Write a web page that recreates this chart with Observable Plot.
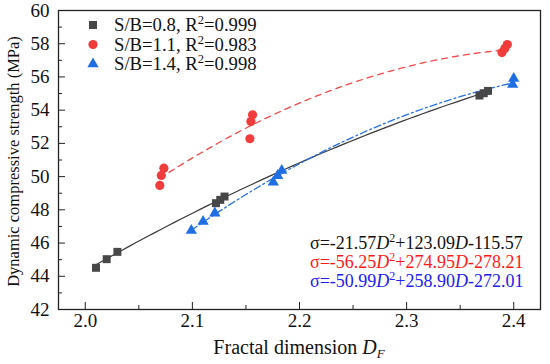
<!DOCTYPE html>
<html><head><meta charset="utf-8">
<script src="https://cdn.jsdelivr.net/npm/d3@7"></script>
<script src="https://cdn.jsdelivr.net/npm/@observablehq/plot@0.6"></script>
<style>body{margin:0;background:#fff} svg{display:block}</style>
</head><body><div id="chart"></div>
<script>
// ---- data ----
const xTicks = [2.0, 2.1, 2.2, 2.3, 2.4];
const xMinor = [2.05, 2.15, 2.25, 2.35];
const yTicks = [42, 44, 46, 48, 50, 52, 54, 56, 58, 60];
const yMinor = [43, 45, 47, 49, 51, 53, 55, 57, 59];
const seriesNames = ["S/B=0.8", "S/B=1.1", "S/B=1.4"];
const r2Values = ["0.999", "0.983", "0.998"];
const dA = [2.010, 2.020, 2.030, 2.122, 2.126, 2.130, 2.368, 2.372, 2.376];
const sA = [44.51, 45.03, 45.47, 48.40, 48.60, 48.80, 54.88, 55.02, 55.16];
const dB = [2.0696, 2.0710, 2.0734, 2.1537, 2.1546, 2.1562, 2.389, 2.3917, 2.394];
const sB = [49.47, 50.07, 50.51, 52.28, 53.32, 53.72, 57.47, 57.71, 57.95];
const dC = [2.099, 2.110, 2.121, 2.1755, 2.1796, 2.1834, 2.399, 2.400];
const sC = [46.76, 47.30, 47.80, 49.66, 50.06, 50.37, 55.55, 55.90];
// fitted quadratic coefficients shown on the chart: a*D^2 + b*D + c
const coefA = [-21.57, 123.09, -115.57];
const coefB = [-56.25, 274.95, -278.21];
const coefC = [-50.99, 258.90, -272.01];

const colors = ["#474747", "#f03c3c", "#1f6fe3"];
const lineColors = ["#3a3a3a", "#f24a4a", "#2a72e0"];
const symbols = ["square", "circle", "triangle"];
const font = "'Liberation Serif', 'Times New Roman', serif";

const W = 550, H = 364, mL = 58, mR = 10, mT = 10, mB = 55;
const innerW = W - mL - mR, innerH = H - mT - mB;

const pts = (ds, ss) => ds.map((d, i) => ({d, s: ss[i]}));
const fit = (coef, ds) => {
  const lo = d3.min(ds), hi = d3.max(ds);
  const n = 60;
  return d3.range(n + 1).map(i => {
    const d = lo + (hi - lo) * i / n;
    return {d, s: coef[0] * d * d + coef[1] * d + coef[2]};
  });
};
const P = [pts(dA, sA), pts(dB, sB), pts(dC, sC)];
const F = [fit(coefA, dA), fit(coefB, dB), fit(coefC, dC)];

const plot = Plot.plot({
  width: W, height: H,
  marginLeft: mL, marginRight: mR, marginTop: mT, marginBottom: mB,
  style: {fontFamily: font, fontSize: "18px", color: "#111", background: "#fff"},
  x: {domain: [1.975, 2.425]},
  y: {domain: [42, 60]},
  marks: [
    Plot.line(F[0], {x: "d", y: "s", stroke: lineColors[0], strokeWidth: 1.2}),
    Plot.line(F[1], {x: "d", y: "s", stroke: lineColors[1], strokeWidth: 1.3, strokeDasharray: "6,5"}),
    Plot.line(F[2], {x: "d", y: "s", stroke: lineColors[2], strokeWidth: 1.3, strokeDasharray: "7,3,2,3"}),
    Plot.dot(P[0], {x: "d", y: "s", symbol: symbols[0], fill: colors[0], r: 4.5}),
    Plot.dot(P[1], {x: "d", y: "s", symbol: symbols[1], fill: colors[1], r: 4.6}),
    Plot.dot(P[2], {x: "d", y: "s", symbol: symbols[2], fill: colors[2], r: 4.2}),
    Plot.tickY(yTicks, {y: d => d, insetRight: innerW - 7, stroke: "#222", strokeWidth: 1}),
    Plot.tickY(yMinor, {y: d => d, insetRight: innerW - 4, stroke: "#222", strokeWidth: 1}),
    Plot.tickX(xTicks, {x: d => d, insetTop: innerH - 7, stroke: "#222", strokeWidth: 1}),
    Plot.tickX(xMinor, {x: d => d, insetTop: innerH - 4, stroke: "#222", strokeWidth: 1}),
    Plot.axisX({ticks: xTicks, tickSize: 0, tickPadding: 4, tickFormat: d3.format(".1f"), label: null, fontSize: 19}),
    Plot.axisY({ticks: yTicks, tickSize: 0, tickPadding: 9, label: null, fontSize: 19}),
    Plot.frame({stroke: "#222", strokeWidth: 1.3})
  ]
});
document.getElementById("chart").append(plot);

const svg = d3.select(plot);

// y-axis title
svg.append("text")
  .attr("transform", `translate(19,${(mT + H - mB) / 2 + 2}) rotate(-90)`)
  .attr("text-anchor", "middle").attr("font-size", 16.5).attr("fill", "#111")
  .text("Dynamic compressive strength (MPa)");

// x-axis title
const xt = svg.append("text")
  .attr("x", (mL + W - mR) / 2).attr("y", 354)
  .attr("text-anchor", "middle").attr("font-size", 20).attr("fill", "#111");
xt.append("tspan").text("Fractal dimension ");
xt.append("tspan").attr("font-style", "italic").text("D");
xt.append("tspan").attr("font-style", "italic").attr("font-size", 13).attr("dy", 4).text("F");

// legend
const legY = [25, 44.5, 64];
seriesNames.forEach((name, i) => {
  const r = [4.5, 4.6, 4.2][i];
  const sym = [d3.symbolSquare, d3.symbolCircle, d3.symbolTriangle][i];
  svg.append("path")
    .attr("transform", `translate(93,${legY[i]})`)
    .attr("d", d3.symbol(sym, Math.PI * r * r)())
    .attr("fill", colors[i]);
  const t = svg.append("text").attr("x", 114).attr("y", legY[i] + 6)
    .attr("text-anchor", "start").attr("font-size", 18.7).attr("fill", "#111");
  t.append("tspan").text(`${name}, R`);
  t.append("tspan").attr("font-size", 12.5).attr("dy", -7).text("2");
  t.append("tspan").attr("dy", 7).text(`=${r2Values[i]}`);
});

// equations
const eqY = [249, 268, 287];
const eqColors = ["#111", "#ff1a1a", "#2020f0"];
[coefA, coefB, coefC].forEach((c, i) => {
  const t = svg.append("text").attr("x", 310).attr("y", eqY[i])
    .attr("text-anchor", "start").attr("font-size", 18).attr("fill", eqColors[i]);
  t.append("tspan").text(`σ=${c[0].toFixed(2)}`);
  t.append("tspan").attr("font-style", "italic").text("D");
  t.append("tspan").attr("font-size", 12).attr("dy", -7).text("2");
  t.append("tspan").attr("dy", 7).text(`+${c[1].toFixed(2)}`);
  t.append("tspan").attr("font-style", "italic").text("D");
  t.append("tspan").text(`${c[2].toFixed(2)}`);
});
</script>
</body></html>
